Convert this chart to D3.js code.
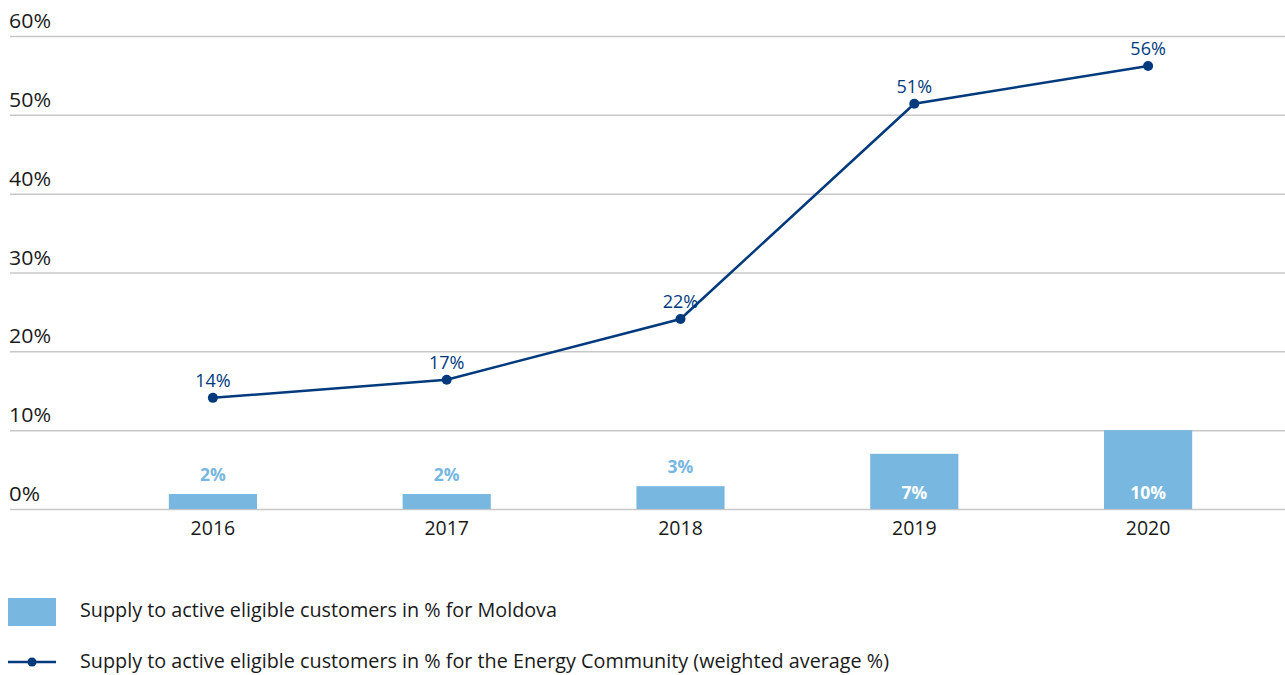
<!DOCTYPE html>
<html><head><meta charset="utf-8">
<script src="https://cdn.jsdelivr.net/npm/d3@7"></script>
<style>body{margin:0;background:#fff;} svg{display:block;font-family:"Open Sans",sans-serif;}</style>
</head><body>
<svg id="c" width="1285" height="675"></svg>
<script>
const years = ["2016","2017","2018","2019","2020"];
const moldova = [1.9, 1.9, 2.9, 7.0, 10.0];
const moldovaLabels = ["2%","2%","3%","7%","10%"];
const community = [14.1, 16.4, 24.1, 51.4, 56.2];
const communityLabels = ["14%","17%","22%","51%","56%"];
const yTicks = [0,10,20,30,40,50,60];
const legendLabels = ["Supply to active eligible customers in % for Moldova","Supply to active eligible customers in % for the Energy Community (weighted average %)"];

const barColor = "#77b7e0", lineColor = "#003a7d", gridColor = "#c8c8c8";
const svg = d3.select("#c");
const y = d3.scaleLinear().domain([0,60]).range([509,36]);
const x = d3.scaleBand().domain(years).range([96,1265]).paddingInner(0.623).paddingOuter(0.3115);

// grid
const g = svg.append("g");
g.selectAll("line").data(yTicks).join("line")
  .attr("x1",10).attr("x2",1285)
  .attr("y1",d=>y(d)+0.5).attr("y2",d=>y(d)+0.5)
  .attr("stroke",gridColor).attr("stroke-width",1.5);
g.selectAll("text").data(yTicks).join("text")
  .attr("x",9).attr("y",d=>y(d)-8)
  .attr("font-size",20).attr("fill","#1a1a1a")
  .attr("textLength",d=>d===0?31:42).attr("lengthAdjust","spacingAndGlyphs")
  .text(d=>d+"%");

// bars
svg.append("g").selectAll("rect").data(years).join("rect")
  .attr("x",d=>x(d)).attr("width",x.bandwidth())
  .attr("y",(d,i)=>y(moldova[i])).attr("height",(d,i)=>y(0)-y(moldova[i]))
  .attr("fill",barColor);
svg.append("g").selectAll("text").data(years).join("text")
  .attr("x",d=>x(d)+x.bandwidth()/2)
  .attr("y",(d,i)=> moldova[i] > 5 ? y(0)-10 : y(moldova[i])-13)
  .attr("text-anchor","middle").attr("font-size",17.5).attr("font-weight","bold")
  .attr("fill",(d,i)=> moldova[i] > 5 ? "#fff" : barColor)
  .text((d,i)=>moldovaLabels[i]);

// x labels
svg.append("g").selectAll("text").data(years).join("text")
  .attr("x",d=>x(d)+x.bandwidth()/2).attr("y",535)
  .attr("text-anchor","middle").attr("font-size",19.5).attr("fill","#1a1a1a")
  .text(d=>d);

// line
const cx = d=>x(d)+x.bandwidth()/2;
const line = d3.line().x((d,i)=>cx(years[i])).y(d=>y(d));
svg.append("path").datum(community).attr("d",line)
  .attr("fill","none").attr("stroke",lineColor).attr("stroke-width",2.5);
svg.append("g").selectAll("circle").data(community).join("circle")
  .attr("cx",(d,i)=>cx(years[i])).attr("cy",d=>y(d)).attr("r",5).attr("fill",lineColor);
svg.append("g").selectAll("text").data(community).join("text")
  .attr("x",(d,i)=>cx(years[i])).attr("y",d=>y(d)-11)
  .attr("text-anchor","middle").attr("font-size",18).attr("fill",lineColor)
  .text((d,i)=>communityLabels[i]);

// legend
const lg = svg.append("g");
lg.append("rect").attr("x",8).attr("y",598).attr("width",48).attr("height",28).attr("fill",barColor);
lg.append("text").attr("x",80).attr("y",617).attr("font-size",19.5).attr("fill","#1a1a1a")
  .attr("textLength",477).attr("lengthAdjust","spacingAndGlyphs").text(legendLabels[0]);
lg.append("line").attr("x1",8).attr("x2",56).attr("y1",662).attr("y2",662).attr("stroke",lineColor).attr("stroke-width",2.5);
lg.append("circle").attr("cx",32).attr("cy",662).attr("r",4.5).attr("fill",lineColor);
lg.append("text").attr("x",80).attr("y",668).attr("font-size",19.5).attr("fill","#1a1a1a")
  .attr("textLength",809).attr("lengthAdjust","spacingAndGlyphs").text(legendLabels[1]);
</script>
</body></html>
